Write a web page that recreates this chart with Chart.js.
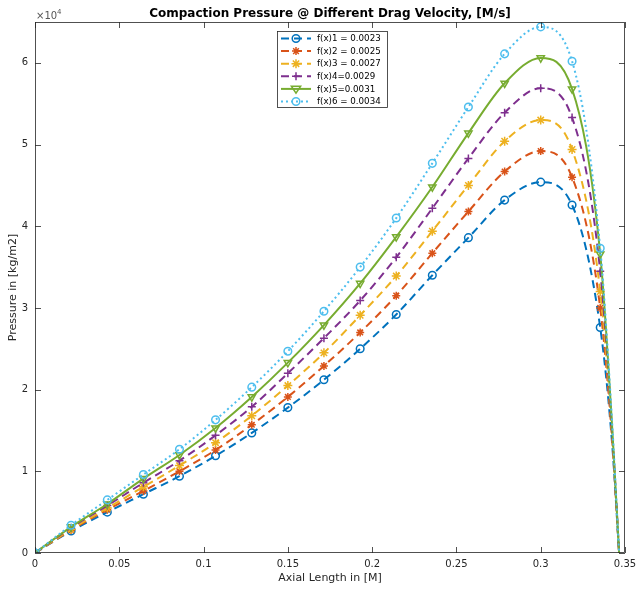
<!DOCTYPE html>
<html><head><meta charset="utf-8">
<script src="https://cdn.jsdelivr.net/npm/chart.js@4.4.1/dist/chart.umd.min.js"></script>
<style>html,body{margin:0;padding:0;background:#fff}#wrap{width:644px;height:589px;position:relative}</style>
</head><body><div id="wrap"><canvas id="c" width="644" height="589"></canvas></div>
<script>
// ---- data (pressure values in units of 1e4 kg/m2) ----
const axialLength = [0, 0.0214, 0.0429, 0.0643, 0.0857, 0.1071, 0.1286, 0.15, 0.1714, 0.1929, 0.2143, 0.2357, 0.2571, 0.2786, 0.30, 0.3186, 0.3353, 0.3425, 0.3465];
const series1 = [0, 0.27, 0.50, 0.72, 0.94, 1.19, 1.47, 1.78, 2.12, 2.50, 2.92, 3.40, 3.86, 4.32, 4.54, 4.26, 2.76, 1.30, 0];
const series2 = [0, 0.28, 0.53, 0.76, 1.00, 1.26, 1.57, 1.91, 2.29, 2.70, 3.15, 3.67, 4.18, 4.67, 4.92, 4.60, 3.00, 1.35, 0];
const series3 = [0, 0.29, 0.55, 0.81, 1.07, 1.35, 1.68, 2.05, 2.45, 2.91, 3.39, 3.94, 4.50, 5.04, 5.30, 4.94, 3.20, 1.40, 0];
const series4 = [0, 0.31, 0.58, 0.86, 1.13, 1.44, 1.79, 2.20, 2.63, 3.09, 3.62, 4.22, 4.83, 5.39, 5.69, 5.33, 3.45, 1.45, 0];
const series5 = [0, 0.32, 0.60, 0.91, 1.20, 1.53, 1.91, 2.33, 2.79, 3.30, 3.87, 4.48, 5.14, 5.75, 6.06, 5.68, 3.66, 1.50, 0];
const series6 = [0, 0.34, 0.65, 0.96, 1.27, 1.63, 2.03, 2.47, 2.96, 3.50, 4.10, 4.77, 5.46, 6.11, 6.44, 6.02, 3.73, 1.55, 0];
const seriesNames = ['f(x)1 = 0.0023', 'f(x)2 = 0.0025', 'f(x)3 = 0.0027', 'f(x)4=0.0029', 'f(x)5=0.0031', 'f(x)6 = 0.0034'];
const markerCount = 17; // markers drawn on first 17 samples
const xTicks = [0, 0.05, 0.1, 0.15, 0.2, 0.25, 0.3, 0.35];
const yTicks = [0, 1, 2, 3, 4, 5, 6];
const yScaleFactor = 1e4;

const allSeries = [series1, series2, series3, series4, series5, series6];
const colors = ['#0072BD', '#D95319', '#EDB120', '#7E2F8E', '#77AC30', '#4DBEEE'];
const dashes = [[8,5],[8,5],[8,5],[8,5],[],[2,3]];
const styles = ['circle', 'star', 'star', 'cross', 'triangle', 'circle'];
const rotations = [0, 0, 0, 0, 180, 0];
const radii = [3.8, 4, 4.5, 4, 4.2, 3.8];

const datasets = allSeries.map((s, i) => ({
  label: seriesNames[i],
  data: s.map((v, k) => ({x: axialLength[k], y: v * yScaleFactor})),
  borderColor: colors[i],
  backgroundColor: 'rgba(0,0,0,0)',
  borderWidth: 2,
  borderDash: dashes[i],
  borderCapStyle: 'butt',
  pointStyle: styles[i],
  pointRotation: rotations[i],
  pointRadius: s.map((v, k) => k < markerCount ? radii[i] : 0),
  pointBorderColor: colors[i],
  pointBackgroundColor: 'rgba(0,0,0,0)',
  pointBorderWidth: 1.5,
  pointHoverRadius: 0,
  cubicInterpolationMode: 'monotone',
  fill: false,
  order: 5 - i
}));

const FONT = 'DejaVu Sans';
const AX = '#262626';

function drawMarker(ctx, style, x, y, r, rot, color) {
  ctx.save();
  ctx.strokeStyle = color; ctx.lineWidth = 1.5; ctx.setLineDash([]);
  ctx.beginPath();
  if (style === 'circle') { ctx.arc(x, y, r, 0, Math.PI * 2); }
  else if (style === 'cross') { ctx.moveTo(x - r, y); ctx.lineTo(x + r, y); ctx.moveTo(x, y - r); ctx.lineTo(x, y + r); }
  else if (style === 'star') {
    ctx.moveTo(x - r, y); ctx.lineTo(x + r, y); ctx.moveTo(x, y - r); ctx.lineTo(x, y + r);
    const d = r * 0.707;
    ctx.moveTo(x - d, y - d); ctx.lineTo(x + d, y + d); ctx.moveTo(x - d, y + d); ctx.lineTo(x + d, y - d);
  } else if (style === 'triangle') {
    const s = r * 1.1;
    ctx.moveTo(x - s, y - s * 0.6); ctx.lineTo(x + s, y - s * 0.6); ctx.lineTo(x, y + s * 0.9); ctx.closePath();
  }
  ctx.stroke();
  ctx.restore();
}

const framePlugin = {
  id: 'frame',
  afterDraw(chart) {
    const {ctx, chartArea: a, scales} = chart;
    ctx.save();
    // box
    ctx.strokeStyle = AX; ctx.lineWidth = 0.8; ctx.setLineDash([]);
    ctx.strokeRect(Math.round(a.left) + 0.5, Math.round(a.top) + 0.5, Math.round(a.right - a.left) - 1, Math.round(a.bottom - a.top) - 1);
    // inward ticks
    const tl = 6;
    ctx.beginPath();
    xTicks.forEach(v => {
      const px = Math.round(scales.x.getPixelForValue(v)) + 0.5;
      ctx.moveTo(px, a.bottom); ctx.lineTo(px, a.bottom - tl);
      ctx.moveTo(px, a.top); ctx.lineTo(px, a.top + tl);
    });
    yTicks.forEach(v => {
      const py = Math.round(scales.y.getPixelForValue(v * yScaleFactor)) + 0.5;
      ctx.moveTo(a.left, py); ctx.lineTo(a.left + tl, py);
      ctx.moveTo(a.right, py); ctx.lineTo(a.right - tl, py);
    });
    ctx.stroke();
    // exponent label
    ctx.fillStyle = '#555'; ctx.textBaseline = 'alphabetic'; ctx.textAlign = 'left';
    ctx.font = '10px "' + FONT + '"';
    ctx.fillText('\u00d710', a.left + 1, 19);
    const w = ctx.measureText('\u00d710').width;
    ctx.font = '7px "' + FONT + '"';
    ctx.fillText('4', a.left + 1 + w, 14);
    // title
    ctx.fillStyle = '#000'; ctx.textAlign = 'center'; ctx.textBaseline = 'middle';
    ctx.font = 'bold 12px "' + FONT + '"';
    ctx.fillText('Compaction Pressure @ Different Drag Velocity, [M/s]', (a.left + a.right) / 2, 14);
    // legend
    const lx = 277.5, ly = 31.5, lw = 110, lh = 76;
    ctx.fillStyle = '#fff'; ctx.fillRect(lx, ly, lw, lh);
    ctx.strokeStyle = AX; ctx.lineWidth = 0.8; ctx.strokeRect(lx, ly, lw, lh);
    ctx.font = '8.7px "' + FONT + '"'; ctx.textAlign = 'left'; ctx.textBaseline = 'middle';
    chart.data.datasets.forEach((ds, i) => {
      const y = 38.5 + i * 12.6;
      ctx.save();
      ctx.strokeStyle = ds.borderColor; ctx.lineWidth = 2; ctx.lineCap = 'butt';
      ctx.setLineDash(ds.borderDash);
      ctx.beginPath(); ctx.moveTo(281, y); ctx.lineTo(311, y); ctx.stroke();
      ctx.restore();
      drawMarker(ctx, styles[i], 296, y, radii[i], rotations[i], ds.borderColor);
      ctx.fillStyle = '#000';
      ctx.fillText(ds.label, 317, y + 0.5);
    });
    ctx.restore();
  }
};

new Chart(document.getElementById('c'), {
  type: 'line',
  data: {datasets},
  options: {
    responsive: false,
    animation: false,
    devicePixelRatio: 1,
    layout: {padding: {top: 22, right: 19, left: 0, bottom: 0}},
    plugins: {legend: {display: false}, title: {display: false}, tooltip: {enabled: false}},
    scales: {
      x: {
        type: 'linear', min: 0, max: 0.35,
        afterBuildTicks: s => { s.ticks = xTicks.map(v => ({value: v})); },
        afterFit: s => { s.height = 36; },
        grid: {display: false, drawTicks: false},
        border: {display: false},
        ticks: {color: AX, font: {family: FONT, size: 10}, padding: 5, maxRotation: 0, autoSkip: false,
          callback: v => String(+(+v).toFixed(2))},
        title: {display: true, text: 'Axial Length in [M]', color: AX, font: {family: FONT, size: 11}, padding: {top: 4, bottom: 4}}
      },
      y: {
        type: 'linear', min: 0, max: 65000,
        afterBuildTicks: s => { s.ticks = yTicks.map(v => ({value: v * yScaleFactor})); },
        afterFit: s => { s.width = 35; },
        grid: {display: false, drawTicks: false},
        border: {display: false},
        ticks: {color: AX, font: {family: FONT, size: 10}, padding: 7, autoSkip: false,
          callback: v => String(Math.round(v / yScaleFactor))},
        title: {display: true, text: 'Pressure in [kg/m2]', color: AX, font: {family: FONT, size: 11}, padding: {top: 7, bottom: 4}}
      }
    }
  },
  plugins: [framePlugin]
});
</script></body></html>
